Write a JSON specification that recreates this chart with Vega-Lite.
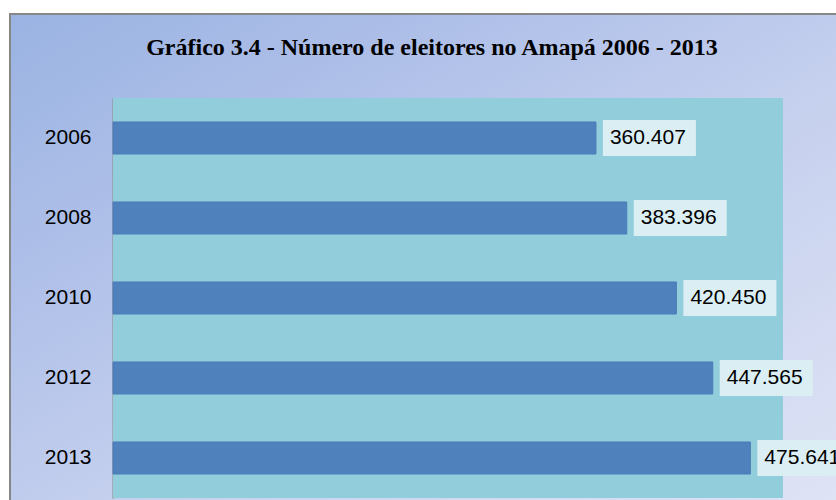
{
  "$schema": "https://vega.github.io/schema/vega-lite/v6.json",
  "width": 850,
  "height": 500,
  "autosize": {"type": "none"},
  "padding": {"left": 10, "top": 14, "right": 0, "bottom": 0},
  "background": "#FFFFFF",
  "title": {
    "text": "Gráfico 3.4 - Número de eleitores no Amapá 2006 - 2013",
    "font": "Liberation Serif",
    "fontSize": 24,
    "fontWeight": "bold",
    "color": "#000000",
    "anchor": "middle",
    "frame": "group",
    "dx": -3,
    "offset": -46
  },
  "config": {
    "view": {
      "fill": {
        "gradient": "linear",
        "x1": 0, "y1": 0, "x2": 1, "y2": 1,
        "stops": [
          {"offset": 0, "color": "#9AB3E2"},
          {"offset": 0.3, "color": "#B1C1E9"},
          {"offset": 0.55, "color": "#C5D0EE"},
          {"offset": 1, "color": "#E0E4F5"}
        ]
      },
      "stroke": "#878787",
      "strokeWidth": 2
    }
  },
  "data": {
    "values": [
      {"ano": "2006", "eleitores": 360407, "rotulo": "360.407"},
      {"ano": "2008", "eleitores": 383396, "rotulo": "383.396"},
      {"ano": "2010", "eleitores": 420450, "rotulo": "420.450"},
      {"ano": "2012", "eleitores": 447565, "rotulo": "447.565"},
      {"ano": "2013", "eleitores": 475641, "rotulo": "475.641"}
    ]
  },
  "layer": [
    {
      "mark": {"type": "rect", "fill": "#92CDDC"},
      "encoding": {
        "y": {
          "field": "ano",
          "type": "nominal",
          "sort": null,
          "scale": {"range": [84, 484], "paddingInner": 0, "paddingOuter": 0},
          "axis": null
        },
        "x": {
          "datum": 0,
          "type": "quantitative",
          "scale": {"domain": [0, 500000], "range": [103, 773], "nice": false, "zero": true},
          "axis": null
        },
        "x2": {"datum": 500000}
      }
    },
    {
      "encoding": {
        "y": {
          "field": "ano",
          "type": "nominal",
          "sort": null,
          "scale": {"range": [84, 484], "paddingInner": 0.6, "paddingOuter": 0.3},
          "axis": {
            "title": null,
            "ticks": false,
            "domain": true,
            "domainColor": "#888888",
            "domainWidth": 2,
            "offset": -103,
            "labelFont": "Liberation Sans",
            "labelFontSize": 21,
            "labelColor": "#000000",
            "labelPadding": 22,
            "grid": false
          }
        },
        "x": {
          "field": "eleitores",
          "type": "quantitative",
          "scale": {"domain": [0, 500000], "range": [103, 773], "nice": false, "zero": true},
          "axis": null
        }
      },
      "layer": [
        {
          "mark": {"type": "bar", "fill": "#4F81BD", "stroke": "#4A7BB7", "strokeWidth": 1}
        },
        {
          "mark": {
            "type": "point",
            "shape": "M0.15,-0.387H2.15V0.387H0.15Z",
            "size": 8649,
            "filled": true,
            "fill": "#DAEEF3",
            "opacity": 1,
            "strokeWidth": 0
          }
        },
        {
          "mark": {
            "type": "text",
            "align": "left",
            "baseline": "middle",
            "dx": 14,
            "font": "Liberation Sans",
            "fontSize": 21,
            "color": "#000000"
          },
          "encoding": {"text": {"field": "rotulo"}}
        }
      ]
    }
  ],
  "resolve": {"scale": {"y": "independent"}}
}
